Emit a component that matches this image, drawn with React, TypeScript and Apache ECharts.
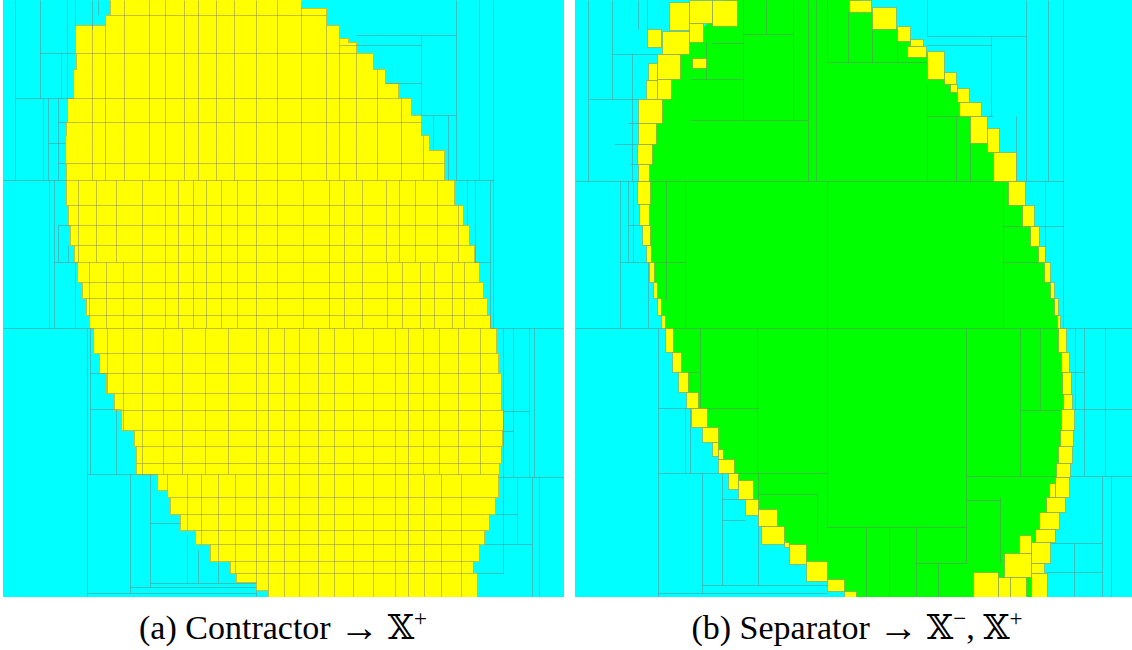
import React, { useEffect, useRef } from "react";
import * as echarts from "echarts";

// ---------- Panel (a): contractor paving ----------
// yellow rows: [yTop, yBottom, xLeft, xRight]
const rowsA: number[][] = [
  [0, 8, 110, 301], [8, 15, 110, 326], [15, 25, 105, 326], [25, 38, 75, 339],
  [38, 42, 75, 348], [42, 53, 75, 356], [53, 69, 76, 373], [69, 83, 73, 385],
  [83, 98, 73, 398], [98, 115, 67, 411], [115, 122, 67, 421], [122, 135, 66, 421],
  [135, 150, 65, 429], [150, 163, 65, 444], [163, 180, 66, 444],
  [180, 205, 66, 454], [205, 225, 68, 463], [225, 245, 70, 469], [245, 262, 74, 474],
  [262, 282, 77, 479], [282, 298, 82, 483], [298, 315, 86, 487], [315, 328, 89, 490],
  [328, 353, 93, 496], [353, 373, 99, 498], [373, 393, 106, 501], [393, 410, 114, 501],
  [410, 430, 121, 503], [430, 446, 134, 502], [446, 463, 136, 501], [463, 474, 136, 499],
  [474, 490, 157, 498], [490, 497, 167, 498], [497, 514, 170, 495], [514, 530, 180, 489],
  [530, 544, 195, 484], [544, 561, 210, 479], [561, 573, 230, 473], [573, 582, 236, 477],
  [582, 590, 256, 477], [590, 597, 268, 477],
];
// vertical band limits, the column lines and the row lines inside each band
const bandsA: number[][] = [[0, 180], [180, 262], [262, 328], [328, 474], [474, 597]];
const colsA: number[][] = [
  [92, 105, 124, 149, 165, 184, 198, 216, 234, 256, 277, 301, 326, 339, 356, 377, 401, 423],
  [78, 96, 116, 142, 165, 178, 193, 206, 221, 237, 256, 277, 303, 329, 344, 362, 386, 399, 415, 437, 458],
  [89, 106, 123, 142, 165, 178, 193, 206, 221, 237, 256, 277, 303, 329, 344, 362, 387, 402, 420, 434, 452, 464],
  [107, 123, 142, 163, 182, 205, 228, 256, 268, 284, 299, 318, 334, 353, 373, 395, 408, 423, 439, 458, 480],
  [167, 187, 201, 218, 235, 256, 268, 284, 299, 318, 334, 353, 373, 395, 408, 424, 441, 461],
];
const rowLinesA: number[] = [
  15, 29, 53, 79, 98, 122, 143, 163, 180, 205, 225, 245, 262, 282, 298, 315, 328,
  353, 373, 393, 410, 430, 446, 463, 474, 497, 514, 530, 544, 561, 573,
];
// outer (cyan) paving lines: [x0, y0, x1, y1]
const linesA: number[][] = [
  [15, 0, 15, 180], [40, 0, 40, 98], [67, 0, 67, 53], [75, 0, 75, 25], [92, 0, 92, 29], [98, 0, 98, 15],
  [40, 53, 75, 53], [61, 53, 61, 98], [67, 53, 67, 98], [15, 98, 73, 98], [43, 98, 43, 180],
  [48, 98, 48, 180], [58, 98, 58, 180], [58, 122, 66, 122], [48, 143, 65, 143], [58, 163, 65, 163],
  [3, 180, 66, 180], [49, 180, 49, 328], [54, 180, 54, 328], [58, 225, 58, 262], [58, 225, 70, 225],
  [68, 245, 68, 262], [54, 262, 77, 262], [75, 262, 75, 328], [3, 328, 93, 328],
  [87, 328, 87, 597], [90, 328, 90, 474], [90, 373, 106, 373], [90, 409, 121, 409], [116, 409, 116, 474],
  [87, 474, 157, 474], [130, 474, 130, 593], [150, 474, 150, 587], [150, 523, 180, 523],
  [187, 535, 187, 583], [198, 550, 198, 583], [218, 562, 218, 583], [150, 583, 256, 583],
  [130, 587, 256, 587], [87, 593, 256, 593], [256, 590, 256, 597],
  [456, 0, 456, 180], [479, 0, 479, 180], [493, 0, 493, 328], [356, 35, 456, 35], [339, 45, 421, 45],
  [421, 35, 421, 115], [385, 83, 421, 83], [421, 115, 456, 115], [433, 115, 433, 150], [448, 115, 448, 180],
  [454, 180, 493, 180], [467, 180, 467, 225], [475, 180, 475, 262], [490, 180, 490, 328], [474, 262, 490, 262],
  [490, 328, 564, 328], [503, 328, 503, 477], [513, 328, 513, 477], [529, 328, 529, 477], [534, 328, 534, 477],
  [503, 411, 529, 411], [503, 431, 513, 431], [498, 477, 564, 477], [503, 477, 503, 573], [517, 477, 517, 544],
  [532, 477, 532, 597], [539, 477, 539, 597], [495, 514, 517, 514], [484, 544, 532, 544], [477, 573, 503, 573],
];

// ---------- Panel (b): separator paving ----------
// inner (green) region outline: [x, y]
const greenB: number[][] = [
  [725, 0], [860, 0], [860, 6], [884, 18], [903, 34], [916, 45], [935, 60], [950, 80], [963, 95],
  [970, 109], [978, 130], [993, 140], [1004, 166], [1016, 193], [1028, 215], [1034, 236], [1041, 254],
  [1047, 272], [1052, 290], [1056, 308], [1058, 322], [1062, 340], [1065, 362], [1066, 383], [1068, 402],
  [1067, 420], [1066, 438], [1065, 455], [1063, 470], [1062, 487], [1055, 505], [1049, 520], [1045, 535],
  [1040, 550], [1025, 565], [1038, 585], [1039, 597], [850, 597], [836, 585], [816, 571], [797, 554],
  [780, 535], [767, 518], [750, 500], [740, 488], [726, 470], [720, 454], [710, 438], [699, 418],
  [692, 400], [683, 382], [677, 362], [669, 340], [663, 322], [659, 308], [655, 290], [652, 272],
  [648, 254], [645, 236], [644, 215], [643, 192], [644, 172], [647, 154], [649, 134], [652, 112],
  [664, 89], [668, 67], [675, 42], [700, 30], [725, 10],
];
// boundary (yellow) boxes: [x0, y0, x1, y1]
const boxesB: number[][] = [
  [669, 2, 689, 30], [689, 0, 712, 23], [712, 0, 737, 26], [689, 23, 703, 42], [647, 29, 661, 47],
  [662, 31, 689, 54], [692, 58, 706, 68], [657, 54, 680, 79], [648, 63, 657, 80], [646, 80, 657, 99],
  [657, 79, 671, 99], [638, 99, 662, 123], [638, 123, 656, 144], [637, 144, 652, 164], [638, 164, 649, 181],
  [637, 181, 650, 204], [639, 204, 649, 225], [642, 225, 650, 245], [646, 245, 651, 262], [649, 262, 654, 282],
  [653, 282, 657, 298], [657, 298, 661, 315], [661, 315, 665, 328], [665, 328, 673, 352], [672, 352, 681, 372],
  [678, 372, 688, 392], [686, 392, 698, 408], [691, 408, 707, 427], [702, 427, 718, 442], [712, 442, 718, 456],
  [718, 449, 723, 459], [718, 459, 734, 473], [728, 473, 738, 489], [738, 480, 753, 499], [745, 499, 758, 515],
  [758, 509, 777, 526], [761, 526, 784, 544], [784, 542, 789, 547], [789, 544, 806, 564], [806, 561, 827, 581],
  [827, 579, 844, 591], [844, 591, 856, 597],
  [849, 0, 871, 12], [872, 7, 896, 29], [897, 26, 910, 41], [910, 39, 923, 46], [907, 46, 926, 57],
  [927, 51, 944, 79], [944, 72, 956, 84], [950, 84, 957, 92], [957, 88, 969, 102], [959, 102, 981, 116],
  [970, 116, 987, 143], [987, 128, 999, 152], [993, 152, 1016, 181], [1008, 181, 1025, 205],
  [1022, 205, 1034, 226], [1030, 226, 1039, 246], [1038, 246, 1045, 262], [1044, 262, 1050, 282],
  [1050, 282, 1054, 298], [1054, 298, 1058, 315], [1057, 315, 1060, 328], [1058, 328, 1066, 352],
  [1061, 352, 1069, 372], [1062, 372, 1071, 394], [1063, 394, 1072, 409], [1061, 409, 1074, 430],
  [1060, 430, 1073, 446], [1058, 446, 1072, 463], [1056, 463, 1070, 477], [1055, 477, 1069, 497],
  [1049, 483, 1055, 497], [1046, 497, 1065, 512], [1039, 512, 1059, 529], [1035, 529, 1055, 542],
  [1019, 535, 1031, 553], [1031, 542, 1050, 563], [1004, 553, 1031, 577], [1031, 563, 1044, 573],
  [1031, 573, 1047, 597], [973, 572, 998, 597], [998, 577, 1010, 597], [1010, 577, 1026, 597],
];
// paving lines of panel (b): [x0, y0, x1, y1]
const linesB: number[][] = [
  [588, 0, 588, 181], [612, 0, 612, 99], [638, 0, 638, 29], [647, 0, 647, 29], [612, 54, 657, 54],
  [632, 54, 632, 181], [589, 99, 638, 99], [628, 123, 638, 123], [614, 144, 637, 144], [630, 164, 638, 164],
  [575, 181, 1063, 181], [620, 181, 620, 328], [628, 181, 628, 262], [633, 181, 633, 262], [628, 225, 642, 225],
  [620, 262, 649, 262], [648, 262, 648, 328], [575, 328, 1132, 328], [658, 328, 658, 597], [658, 408, 758, 408],
  [685, 408, 685, 473], [690, 408, 690, 473], [658, 473, 827, 473], [702, 473, 702, 593], [722, 473, 722, 585],
  [758, 473, 758, 585], [702, 585, 827, 585], [658, 593, 827, 593], [758, 494, 817, 494], [817, 494, 817, 544],
  [722, 499, 745, 499], [722, 520, 745, 520],
  [743, 0, 743, 120], [766, 0, 766, 34], [793, 0, 793, 120], [808, 0, 808, 181], [816, 0, 816, 181],
  [827, 0, 827, 62], [743, 34, 793, 34], [690, 120, 808, 120], [706, 42, 706, 79], [690, 79, 742, 79],
  [712, 43, 742, 43], [827, 62, 927, 62], [848, 12, 848, 62], [872, 29, 872, 62], [897, 41, 897, 62],
  [927, 0, 927, 36], [927, 84, 927, 181], [956, 116, 956, 181], [970, 143, 970, 181], [927, 116, 993, 116],
  [685, 181, 685, 328], [666, 181, 666, 300], [655, 262, 685, 262], [827, 181, 827, 527], [1003, 181, 1003, 328],
  [1003, 226, 1063, 226], [1045, 181, 1045, 262], [1003, 262, 1045, 262],
  [700, 328, 700, 408], [757, 328, 757, 473], [688, 372, 700, 372], [966, 328, 966, 563], [1020, 328, 1020, 476],
  [1040, 328, 1040, 410], [1020, 410, 1060, 410], [966, 476, 1132, 476], [827, 527, 966, 527],
  [866, 527, 866, 597], [889, 527, 889, 597], [916, 527, 916, 597], [916, 563, 966, 563], [938, 563, 938, 597],
  [1000, 497, 1000, 563], [966, 500, 1000, 500],
  [1063, 0, 1063, 328], [1048, 0, 1048, 181], [1026, 0, 1026, 181], [927, 36, 1026, 36], [927, 45, 991, 45],
  [991, 36, 991, 116], [1016, 116, 1016, 181], [1084, 328, 1084, 476], [1105, 328, 1105, 476],
  [1063, 372, 1084, 372], [1074, 409, 1132, 409], [1075, 328, 1075, 409], [1111, 476, 1111, 597],
  [1102, 476, 1102, 597], [1050, 543, 1102, 543], [1046, 572, 1102, 572], [1074, 543, 1074, 597],
];

const captionParts = [
  ["(a) Contractor ", "\u2192", " \u{1D54F}", "+", ""],
  ["(b) Separator ", "\u2192", " \u{1D54F}", "\u2212", ", \u{1D54F}", "+"],
];

const CYAN = "#00ffff";
const YELLOW = "#ffff00";
const GREEN = "#00ff00";
const LINE = "rgba(120,120,120,0.45)";

// derived segments of panel (a): columns, row lines and the outline of the yellow rows
function buildSegmentsA(): number[][] {
  const segs: number[][] = [];
  rowsA.forEach((r, k) => {
    const [y0, y1, L, R] = r;
    bandsA.forEach((b, i) => {
      if (y0 >= b[0] && y1 <= b[1]) {
        colsA[i].forEach((x) => {
          if (x > L && x < R) segs.push([x, y0, x, y1]);
        });
      }
    });
    segs.push([L, y0, L, y1]);
    segs.push([R, y0, R, y1]);
    const next = rowsA[k + 1];
    if (next) {
      if (next[2] !== L) segs.push([Math.min(L, next[2]), y1, Math.max(L, next[2]), y1]);
      if (next[3] !== R) segs.push([Math.min(R, next[3]), y1, Math.max(R, next[3]), y1]);
    }
  });
  rowLinesA.forEach((y) => {
    const above = rowsA.find((r) => r[1] === y);
    const below = rowsA.find((r) => r[0] === y);
    const row = below || above;
    if (row) segs.push([Math.max(row[2], above ? above[2] : row[2]), y, Math.min(row[3], above ? above[3] : row[3]), y]);
  });
  return segs;
}

const lineItem = (params: any, api: any) => {
  const a = api.coord([api.value(0), api.value(1)]);
  const b = api.coord([api.value(2), api.value(3)]);
  return {
    type: "line",
    shape: { x1: Math.round(a[0]) + 0.5, y1: Math.round(a[1]) + 0.5, x2: Math.round(b[0]) + 0.5, y2: Math.round(b[1]) + 0.5 },
    style: { stroke: LINE, lineWidth: 1 },
  };
};

const rectFromCorners = (a: number[], b: number[], fill: string, stroke: string | null) => ({
  type: "rect",
  shape: {
    x: Math.round(Math.min(a[0], b[0])) + (stroke ? 0.5 : 0),
    y: Math.round(Math.min(a[1], b[1])) + (stroke ? 0.5 : 0),
    width: Math.round(Math.abs(b[0] - a[0])) + (stroke ? 0 : 1),
    height: Math.round(Math.abs(b[1] - a[1])) + (stroke ? 0 : 1),
  },
  style: stroke ? { fill, stroke, lineWidth: 1 } : { fill },
});

const FONT = "'Liberation Serif', 'DejaVu Serif', serif";
function captionText(parts: string[]) {
  let s = `{t|${parts[0]}}{ar|${parts[1]}}{t|${parts[2]}}{sup|${parts[3]}}`;
  if (parts[4]) s += `{t|${parts[4]}}`;
  if (parts[5]) s += `{sup|${parts[5]}}`;
  return s;
}

export default function App() {
  const ref = useRef<HTMLDivElement>(null);
  useEffect(() => {
    if (!ref.current) return;
    const chart = echarts.init(ref.current, undefined, { renderer: "svg" });
    const segsA = buildSegmentsA();
    const rich = {
      t: { fontFamily: FONT, fontSize: 34, color: "#000" },
      ar: { fontFamily: FONT, fontSize: 40, color: "#000" },
      sup: { fontFamily: FONT, fontSize: 23, color: "#000", verticalAlign: "top", padding: [0, 0, 14, 0] },
    };
    const option: any = {
      animation: false,
      backgroundColor: "#ffffff",
      grid: [
        { left: 3, top: 0, width: 561, height: 597, show: true, backgroundColor: CYAN, borderWidth: 0 },
        { left: 575, top: 0, width: 557, height: 597, show: true, backgroundColor: CYAN, borderWidth: 0 },
      ],
      xAxis: [
        { type: "value", gridIndex: 0, min: 3, max: 564, show: false },
        { type: "value", gridIndex: 1, min: 575, max: 1132, show: false },
      ],
      yAxis: [
        { type: "value", gridIndex: 0, min: 0, max: 597, inverse: true, show: false },
        { type: "value", gridIndex: 1, min: 0, max: 597, inverse: true, show: false },
      ],
      series: [
        {
          type: "custom", xAxisIndex: 0, yAxisIndex: 0, clip: true,
          data: rowsA, encode: { x: [2, 3], y: [0, 1] },
          renderItem: (p: any, api: any) => {
            const a = api.coord([api.value(2), api.value(0)]);
            const b = api.coord([api.value(3), api.value(1)]);
            return rectFromCorners(a, b, YELLOW, null);
          },
        },
        {
          type: "custom", xAxisIndex: 0, yAxisIndex: 0, clip: true,
          data: segsA, encode: { x: [0, 2], y: [1, 3] }, renderItem: lineItem,
        },
        {
          type: "custom", xAxisIndex: 0, yAxisIndex: 0, clip: true,
          data: linesA, encode: { x: [0, 2], y: [1, 3] }, renderItem: lineItem,
        },
        {
          type: "custom", xAxisIndex: 1, yAxisIndex: 1, clip: true,
          data: [[greenB[0][0], greenB[0][1]]],
          renderItem: (p: any, api: any) => ({
            type: "polygon",
            shape: { points: greenB.map((pt) => api.coord(pt)) },
            style: { fill: GREEN },
          }),
        },
        {
          type: "custom", xAxisIndex: 1, yAxisIndex: 1, clip: true,
          data: linesB, encode: { x: [0, 2], y: [1, 3] }, renderItem: lineItem,
        },
        {
          type: "custom", xAxisIndex: 1, yAxisIndex: 1, clip: true,
          data: boxesB, encode: { x: [0, 2], y: [1, 3] },
          renderItem: (p: any, api: any) => {
            const a = api.coord([api.value(0), api.value(1)]);
            const b = api.coord([api.value(2), api.value(3)]);
            return rectFromCorners(a, b, YELLOW, LINE);
          },
        },
      ],
      graphic: [
        {
          type: "text", x: 283, y: 627,
          style: { text: captionText(captionParts[0]), rich, align: "center", verticalAlign: "middle" },
        },
        {
          type: "text", x: 857, y: 627,
          style: { text: captionText(captionParts[1]), rich, align: "center", verticalAlign: "middle" },
        },
      ],
    };
    chart.setOption(option);
    return () => chart.dispose();
  }, []);
  return <div ref={ref} style={{ position: "absolute", left: 0, top: 0, width: 1132, height: 650 }} />;
}
